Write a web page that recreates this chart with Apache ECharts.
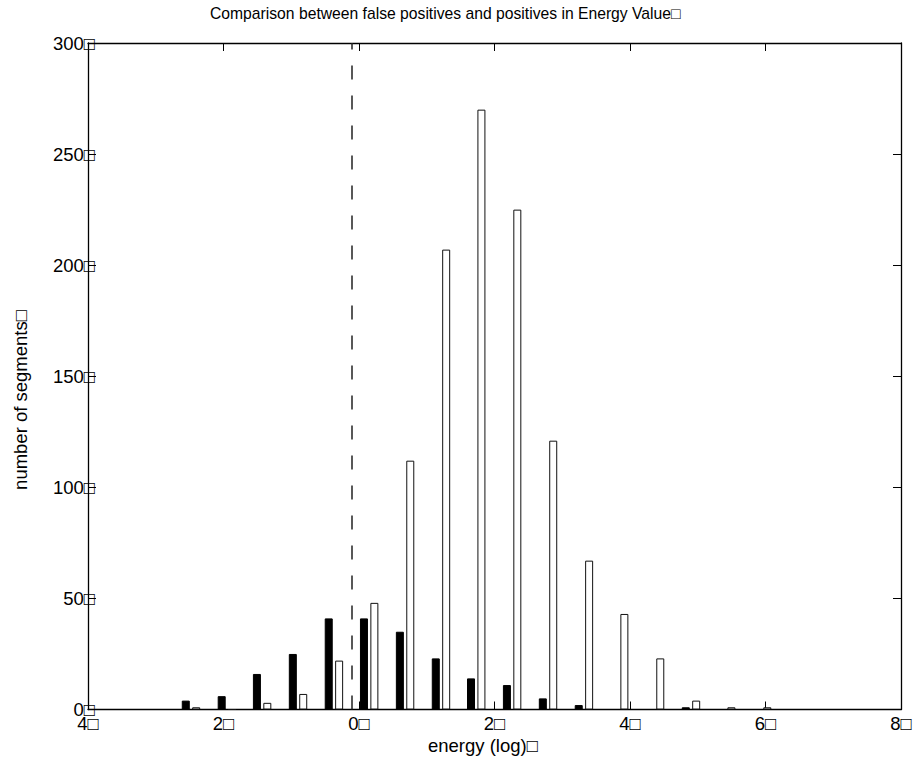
<!DOCTYPE html>
<html>
<head>
<meta charset="utf-8">
<script src="https://cdn.jsdelivr.net/npm/echarts@6/dist/echarts.min.js"></script>
<style>
html,body{margin:0;padding:0;background:#fff;}
#chart{width:920px;height:767px;}
</style>
</head>
<body>
<div id="chart"></div>
<script>
// ---- data ----
const binCenters = [-2.48, -1.95, -1.43, -0.90, -0.37, 0.15, 0.68, 1.21, 1.73, 2.26, 2.79, 3.32, 3.84, 4.37, 4.90, 5.42, 5.95];
const falsePositives = [4, 6, 16, 25, 41, 41, 35, 23, 14, 11, 5, 2, 0, 0, 1, 0, 0];
const positives = [1, 0, 3, 7, 22, 48, 112, 207, 270, 225, 121, 67, 43, 23, 4, 1, 1];
const threshold = -0.1;
const xTickLabels = ['4□', '2□', '0□', '2□', '4□', '6□', '8□'];
const yTickLabels = ['0□', '50□', '100□', '150□', '200□', '250□', '300□'];
const titleText = 'Comparison between false positives and positives in Energy Value□';
const xName = 'energy (log)□';
const yName = 'number of segments□';

const FONT = '"Liberation Sans", Arial, Helvetica, sans-serif';
const chart = echarts.init(document.getElementById('chart'), null, {renderer: 'svg'});

const pair = (xs, ys) => xs.map((x, i) => [x, ys[i]]);
const tickStyle = {show: true, inside: true, length: 8, lineStyle: {color: '#000', width: 1}};
const lineStyle = {show: true, onZero: false, lineStyle: {color: '#000', width: 1.3}};

const option = {
  animation: false,
  backgroundColor: '#fff',
  grid: {left: 88, right: 19, top: 43, bottom: 57.5, containLabel: false},
  title: {
    text: titleText, left: 205, top: 0,
    textStyle: {fontFamily: FONT, fontSize: 15.7, fontWeight: 'normal', color: '#000'}
  },
  graphic: [
    {type: 'text', left: 428, top: 736, style: {text: xName, font: '18.5px ' + FONT, fill: '#000'}},
    {type: 'text', x: 20, y: 400, rotation: Math.PI / 2,
     style: {text: yName, font: '18.5px ' + FONT, fill: '#000', align: 'center', verticalAlign: 'middle'}}
  ],
  xAxis: [
    {type: 'value', min: -4, max: 8, interval: 2, position: 'bottom',
     axisLine: lineStyle, axisTick: tickStyle, splitLine: {show: false},
     axisLabel: {show: true, margin: 6, lineHeight: 15, showMinLabel: true, showMaxLabel: true, hideOverlap: false,
       fontFamily: FONT, fontSize: 18.5, color: '#000',
       formatter: (v) => xTickLabels[Math.round((v + 4) / 2)]}},
    {type: 'value', min: -4, max: 8, interval: 2, position: 'top',
     axisLine: lineStyle, axisTick: tickStyle, splitLine: {show: false}, axisLabel: {show: false}}
  ],
  yAxis: [
    {type: 'value', min: 0, max: 300, interval: 50, position: 'left',
     axisLine: lineStyle, axisTick: tickStyle, splitLine: {show: false},
     axisLabel: {show: true, margin: -7, lineHeight: 14, showMinLabel: true, showMaxLabel: true, hideOverlap: false,
       fontFamily: FONT, fontSize: 18.5, color: '#000',
       formatter: (v) => yTickLabels[Math.round(v / 50)]}},
    {type: 'value', min: 0, max: 300, interval: 50, position: 'right',
     axisLine: lineStyle, axisTick: tickStyle, splitLine: {show: false}, axisLabel: {show: false}}
  ],
  series: [
    {name: 'false positives', type: 'bar', xAxisIndex: 0, yAxisIndex: 0,
     barWidth: 8, barGap: '30%',
     itemStyle: {color: '#000', borderColor: '#000', borderWidth: 1},
     data: pair(binCenters, falsePositives)},
    {name: 'positives', type: 'bar', xAxisIndex: 0, yAxisIndex: 0,
     barWidth: 8, barGap: '30%',
     itemStyle: {color: '#fff', borderColor: '#111', borderWidth: 1},
     data: pair(binCenters, positives)},
    {name: 'threshold', type: 'line', xAxisIndex: 0, yAxisIndex: 0, data: [],
     markLine: {
       silent: true, symbol: ['none', 'none'], label: {show: false},
       lineStyle: {color: '#222', width: 1.5, type: [14, 16]},
       emphasis: {disabled: true},
       data: [{xAxis: threshold}]
     }}
  ]
};
chart.setOption(option);
</script>
</body>
</html>
